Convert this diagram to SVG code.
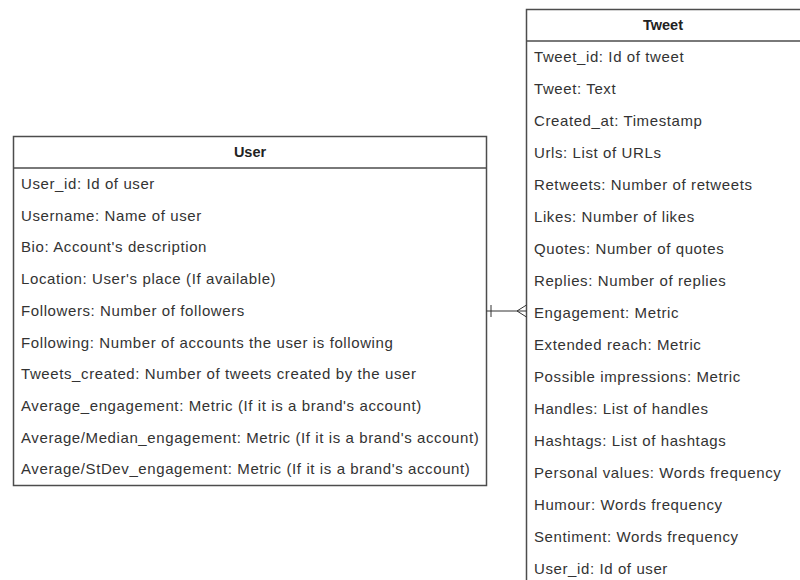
<svg xmlns="http://www.w3.org/2000/svg" width="800" height="580" viewBox="0 0 800 580">
<style>
.box{fill:#fff;stroke:#4d4d4d;stroke-width:1.5}
.sep{stroke:#4d4d4d;stroke-width:1.5}
.h{font-family:"Liberation Sans",Arial,sans-serif;font-size:14.5px;font-weight:bold;fill:#222;text-anchor:middle}
.t{font-family:"Liberation Sans",Arial,sans-serif;font-size:15px;letter-spacing:0.6px;fill:#333}
.c{fill:none;stroke:#333;stroke-width:1}
</style>
<rect width="800" height="580" fill="#fff"/>
<g id="user">
<rect class="box" x="13.5" y="136.5" width="473" height="349"/>
<line class="sep" x1="13.5" y1="168" x2="486.5" y2="168"/>
<text class="h" x="250" y="157">User</text>
<text class="t" x="21" y="189">User_id: Id of user</text>
<text class="t" x="21" y="220.7">Username: Name of user</text>
<text class="t" x="21" y="252.4">Bio: Account's description</text>
<text class="t" x="21" y="284.1">Location: User's place (If available)</text>
<text class="t" x="21" y="315.8">Followers: Number of followers</text>
<text class="t" x="21" y="347.5">Following: Number of accounts the user is following</text>
<text class="t" x="21" y="379.2">Tweets_created: Number of tweets created by the user</text>
<text class="t" x="21" y="410.9">Average_engagement: Metric (If it is a brand's account)</text>
<text class="t" x="21" y="442.6">Average/Median_engagement: Metric (If it is a brand's account)</text>
<text class="t" x="21" y="474.3">Average/StDev_engagement: Metric (If it is a brand's account)</text>
</g>
<g id="tweet">
<rect class="box" x="526.5" y="9.5" width="280" height="600"/>
<line class="sep" x1="526.5" y1="41" x2="806" y2="41"/>
<text class="h" x="663" y="30">Tweet</text>
<text class="t" x="534" y="62">Tweet_id: Id of tweet</text>
<text class="t" x="534" y="94">Tweet: Text</text>
<text class="t" x="534" y="126">Created_at: Timestamp</text>
<text class="t" x="534" y="158">Urls: List of URLs</text>
<text class="t" x="534" y="190">Retweets: Number of retweets</text>
<text class="t" x="534" y="222">Likes: Number of likes</text>
<text class="t" x="534" y="254">Quotes: Number of quotes</text>
<text class="t" x="534" y="286">Replies: Number of replies</text>
<text class="t" x="534" y="318">Engagement: Metric</text>
<text class="t" x="534" y="350">Extended reach: Metric</text>
<text class="t" x="534" y="382">Possible impressions: Metric</text>
<text class="t" x="534" y="414">Handles: List of handles</text>
<text class="t" x="534" y="446">Hashtags: List of hashtags</text>
<text class="t" x="534" y="478">Personal values: Words frequency</text>
<text class="t" x="534" y="510">Humour: Words frequency</text>
<text class="t" x="534" y="542">Sentiment: Words frequency</text>
<text class="t" x="534" y="574">User_id: Id of user</text>
</g>
<g id="connectors">
<line class="c" x1="486.5" y1="311" x2="526.5" y2="311"/>
<line class="c" x1="491" y1="305" x2="491" y2="317"/>
<path class="c" d="M526.5 305 L517 311 L526.5 317"/>
</g>
</svg>
